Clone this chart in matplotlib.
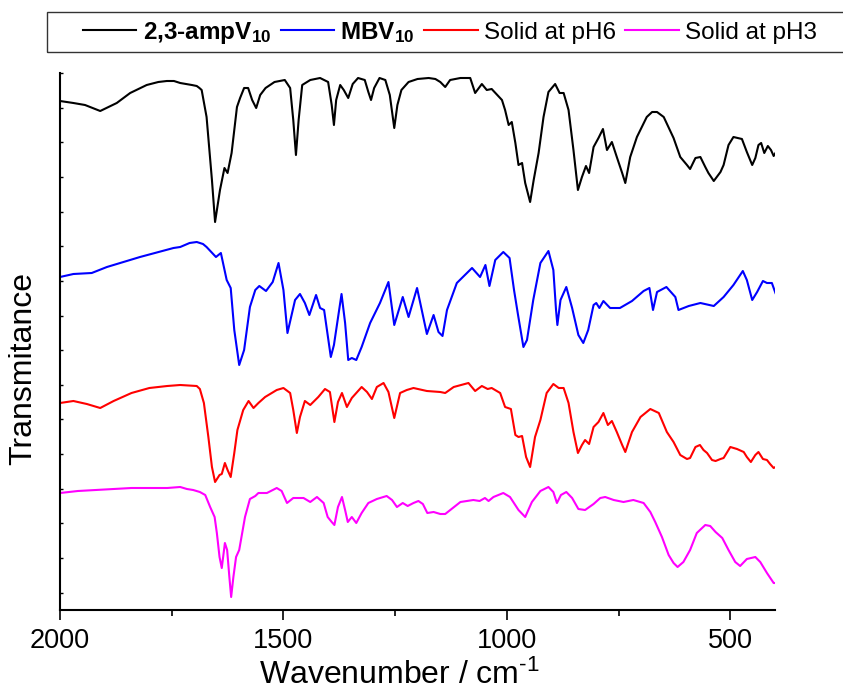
import numpy as np
import matplotlib
matplotlib.use("Agg")
import matplotlib.pyplot as plt
from matplotlib.ticker import MultipleLocator
from matplotlib.patches import Rectangle

plt.rcParams['font.family'] = ['Liberation Sans', 'DejaVu Sans']
plt.rcParams['mathtext.fontset'] = 'custom'
plt.rcParams['mathtext.rm'] = 'Liberation Sans'
plt.rcParams['mathtext.it'] = 'Liberation Sans:italic'
plt.rcParams['mathtext.bf'] = 'Liberation Sans:bold'

# IR spectra (wavenumber / cm-1, transmittance a.u. incl. stack offset)
wn_amp = [2000, 1970, 1944, 1910, 1873, 1843, 1806, 1780, 1761, 1745, 1731, 1705, 1694, 1688,
          1683, 1672, 1660, 1653,
          1642, 1632, 1625, 1616, 1604, 1597, 1588, 1579, 1570, 1561, 1552, 1540, 1520, 1497,
          1485, 1478, 1472, 1466, 1458, 1440, 1418, 1400, 1392, 1387, 1382, 1373, 1365, 1355,
          1345, 1333, 1318, 1310, 1304, 1297, 1285, 1272, 1262, 1252, 1245, 1236, 1220, 1200,
          1175, 1160, 1149, 1138, 1127, 1104, 1082, 1071, 1056, 1045, 1034, 1011, 1004, 996,
          989, 981, 974, 966, 959, 948, 940, 929, 918, 907, 892, 882, 873, 862, 851, 841, 832,
          823, 816, 806, 795, 785, 776, 765, 754, 742, 735, 724, 709, 687, 675, 664, 649, 627, 612,
          597, 590, 578, 567, 556, 549, 537, 522, 515, 504, 493, 474, 463, 451, 444, 437, 431,
          424, 416, 409, 403, 399]
t_amp = [599, 597, 595, 589, 597, 607, 615, 618, 619, 619, 617, 615, 614, 612,
         610, 583, 520, 478,
         510, 532, 527, 547, 593, 602, 612, 612, 600, 592, 605, 612, 618, 620,
         612, 580, 545, 580, 615, 620, 622, 618, 595, 575, 600, 615, 610, 602,
         616, 622, 620, 608, 600, 612, 622, 620, 605, 572, 595, 610, 618, 621,
         622, 621, 618, 613, 620, 622, 622, 607, 616, 610, 611, 600, 590, 575,
         578, 557, 535, 537, 517, 498, 520, 547, 583, 608, 616, 607, 607, 590, 550, 510, 523,
         534, 527, 553, 562, 571, 550, 558, 543, 527, 517, 543, 563, 583, 588, 588, 583, 562, 543,
         535, 531, 542, 543, 533, 527, 519, 528, 535, 555, 563, 561, 548, 535, 542, 555, 557,
         547, 554, 550, 544, 547]

wn_mbv = [2000, 1970, 1929, 1895, 1821, 1746, 1731, 1710, 1694, 1680, 1672, 1651, 1640, 1627,
          1618, 1610,
          1599, 1588, 1575, 1563, 1554, 1539, 1524, 1511, 1500, 1491, 1474, 1463, 1452, 1442,
          1427, 1418, 1409, 1394, 1387, 1370, 1362, 1355, 1347, 1337, 1325, 1306, 1284, 1265,
          1252, 1233, 1220, 1201, 1179, 1164, 1153, 1144, 1134, 1112, 1078, 1060, 1048, 1039,
          1026, 1008, 994, 984, 975, 963, 955, 941, 925, 907, 896, 890, 887, 880, 867, 854,
          840, 829, 818, 806, 800, 793, 784, 769, 747, 720, 694, 681, 673, 664, 643, 623, 616,
          593, 567, 537, 515, 493, 472, 463, 451, 440, 427, 418, 407, 399]
t_mbv = [423, 426, 427, 433, 443, 452, 453, 457, 458, 456, 453, 443, 447, 420,
         412, 370,
         335, 350, 393, 410, 414, 409, 418, 437, 410, 367, 400, 406, 397, 385,
         405, 392, 390, 343, 355, 406, 377, 340, 342, 340, 353, 377, 397, 418,
         375, 403, 383, 412, 366, 385, 368, 364, 390, 417, 432, 423, 435, 414,
         440, 448, 442, 410, 385, 353, 360, 400, 437, 449, 430, 390, 375, 400, 413, 392,
         365, 357, 370, 395, 397, 392, 399, 392, 392, 399, 409, 412, 390, 408, 413, 403, 390,
         394, 397, 394, 403, 415, 429, 420, 400, 408, 419, 417, 417, 407]

wn_ph6 = [2000, 1970, 1940, 1910, 1880, 1840, 1800, 1760, 1731, 1694, 1687, 1678, 1668, 1660,
          1653, 1643, 1638, 1631, 1625, 1618, 1610, 1603, 1590, 1578, 1567, 1556, 1541, 1515,
          1500, 1485, 1478, 1470, 1463, 1452, 1440, 1431, 1422, 1407, 1396, 1386, 1378, 1369,
          1358, 1347, 1325, 1313, 1302, 1291, 1276, 1265, 1252, 1239, 1224, 1209, 1179, 1149,
          1138, 1119, 1086, 1071, 1056, 1043, 1034, 1015, 1004, 991, 981, 974, 966, 957, 948,
          937, 925, 911, 896, 884, 873, 862, 851, 841, 832, 825, 816, 806, 795, 784, 774, 765,
          754, 742, 735, 720, 701, 679, 660, 642, 627, 612, 597, 590, 578, 568, 560, 552, 541,
          533, 522, 515, 500, 485, 470, 463, 454, 444, 437, 427, 418, 411, 403, 399]
t_ph6 = [297, 299, 296, 292, 299, 307, 312, 314, 315, 314, 311, 297, 263, 233,
         218, 225, 226, 237, 230, 223, 247, 270, 290, 299, 292, 297, 303, 310,
         312, 307, 290, 267, 283, 299, 295, 299, 303, 311, 308, 278, 298, 307,
         293, 302, 313, 308, 301, 313, 317, 308, 282, 307, 310, 312, 309, 308,
         307, 313, 317, 309, 314, 311, 312, 307, 293, 291, 265, 263, 264, 243, 233,
         263, 280, 307, 316, 312, 312, 297, 268, 247, 255, 260, 256, 273, 278, 287, 275, 279,
         268, 255, 248, 268, 283, 291, 287, 268, 258, 245, 241, 242, 253, 255, 250, 247, 240,
         239, 241, 242, 253, 251, 248, 243, 238, 245, 248, 241, 240, 236, 232, 233]

wn_ph3 = [2000, 1960, 1920, 1880, 1840, 1800, 1760, 1731, 1716, 1702, 1687, 1675, 1664, 1654,
          1649, 1643, 1638, 1631, 1626, 1621, 1617, 1612, 1606, 1599, 1586, 1575, 1563, 1556,
          1537, 1515, 1504, 1492, 1478, 1455, 1440, 1425, 1410, 1401, 1392, 1386, 1378, 1369,
          1362, 1356, 1347, 1337, 1325, 1310, 1291, 1269, 1257, 1246, 1233, 1222, 1209, 1198,
          1188, 1178, 1164, 1149, 1138, 1104, 1075, 1061, 1049, 1041, 1030, 1008, 993, 974,
          959, 944, 925, 907, 896, 888, 879, 867, 854, 840, 825, 806, 791, 780, 761, 739, 717,
          694, 679, 668, 653, 638, 627, 618, 605, 590, 575, 556, 545, 533, 518, 504, 489, 478,
          463, 444, 433, 418, 403, 399]
t_ph3 = [207, 209, 210, 211, 212, 212, 212, 213, 211, 210, 208, 205, 193, 183,
         167, 143, 132, 157, 150, 123, 103, 123, 143, 150, 183, 201, 204, 207,
         207, 212, 209, 197, 202, 202, 198, 203, 197, 183, 178, 175, 193, 203,
         190, 178, 183, 177, 187, 197, 201, 204, 200, 193, 197, 194, 197, 199,
         196, 187, 188, 186, 186, 198, 200, 199, 202, 199, 203, 207, 203, 190,
         183, 198, 209, 213, 208, 197, 205, 208, 202, 191, 190, 196, 202, 203, 200, 198, 200,
         197, 188, 178, 163, 145, 137, 133, 138, 150, 167, 175, 174, 168, 162, 150, 138, 134,
         141, 143, 138, 127, 117, 117]

series = [
    (wn_amp, t_amp, "black", "2,3-ampV$_\\mathbf{10}$", "bold"),
    (wn_mbv, t_mbv, "#0000ff", "MBV$_\\mathbf{10}$", "bold"),
    (wn_ph6, t_ph6, "#ff0000", "Solid at pH6", "normal"),
    (wn_ph3, t_ph3, "#ff00ff", "Solid at pH3", "normal"),
]

fig = plt.figure(figsize=(8.43, 6.95), dpi=100)
ax = fig.add_axes([60 / 843, 85 / 695, 715 / 843, 537 / 695])

lines = []
for wn, t, c, lab, w in series:
    ln, = ax.plot(wn, t, color=c, lw=1.5, label=lab)
    lines.append(ln)

ax.set_xlim(2000, 400)
ax.set_ylim(90, 627)
ax.xaxis.set_major_locator(MultipleLocator(500))
ax.xaxis.set_minor_locator(MultipleLocator(250))
ax.set_yticks(np.arange(627, 100, -34.65))
ax.set_yticklabels([])
ax.tick_params(axis='x', which='major', direction='out', length=7, width=1.2,
               labelsize=19.5, pad=6)
ax.tick_params(axis='x', which='minor', direction='out', length=4, width=1.2)
ax.tick_params(axis='y', which='major', direction='in', length=2.5, width=1)
for s in ['top', 'right']:
    ax.spines[s].set_visible(False)
for s in ['left', 'bottom']:
    ax.spines[s].set_linewidth(1.5)

ax.set_xlabel("Wavenumber / cm$^{\\text{-}1}$", fontsize=23)
ax.set_ylabel("Transmitance", fontsize=23)
ax.xaxis.set_label_coords(0.475, -0.092)
ax.yaxis.set_label_coords(-0.031, 0.449)

# legend box runs off the right edge of the figure
fig.patches.append(Rectangle((47 / 843, 1 - 52 / 695), 820 / 843, 40 / 695,
                             transform=fig.transFigure, fill=False,
                             edgecolor='#333333', lw=1.0))
leg = fig.legend(handles=lines, loc='center left', bbox_to_anchor=(83 / 843, 1 - 33 / 695),
                 ncol=4, fontsize=17.5, frameon=False, borderaxespad=0, borderpad=0,
                 handlelength=2.2, handletextpad=0.25, columnspacing=0.4)
for txt, (_, _, _, _, w) in zip(leg.get_texts(), series):
    txt.set_fontweight(w)

fig.savefig("out.png", dpi=100)
